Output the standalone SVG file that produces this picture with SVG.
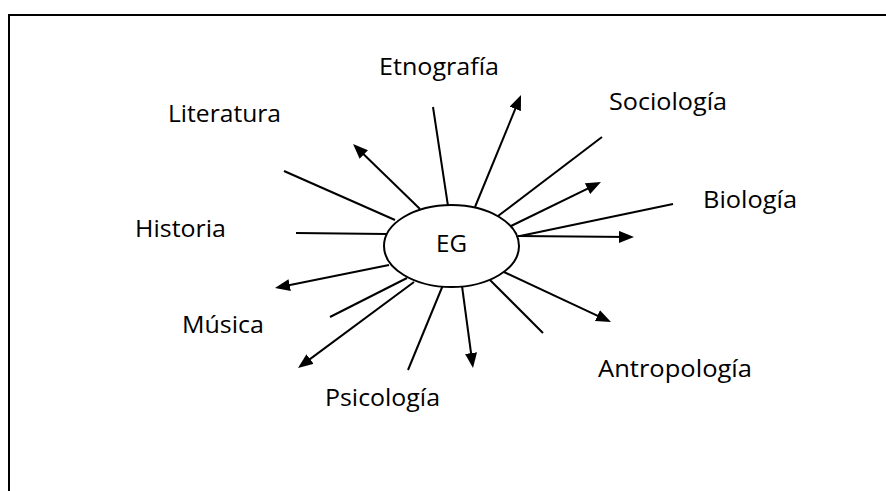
<svg xmlns="http://www.w3.org/2000/svg" width="886" height="491" viewBox="0 0 886 491">
<style>
.c line{stroke:#000;stroke-width:2;fill:none}
.a{marker-end:url(#ah)}
text{font-family:"Open Sans","Liberation Sans",sans-serif;font-size:24px;fill:#000}
</style>
<defs>
<marker id="ah" viewBox="0 0 15 12" refX="11" refY="6" markerWidth="15" markerHeight="12" markerUnits="userSpaceOnUse" orient="auto">
<path d="M0,0 L15,6 L0,12 Z" fill="#000"/>
</marker>
</defs>
<rect width="886" height="491" fill="#fff"/>
<path d="M9,491 V15 H886" fill="none" stroke="#000" stroke-width="2"/>
<g id="connectors" class="c">
<line x1="284" y1="171" x2="395" y2="220"/>
<line x1="296" y1="233" x2="386" y2="234"/>
<line x1="433" y1="107" x2="448" y2="206"/>
<line x1="602" y1="137" x2="498" y2="216"/>
<line x1="673" y1="204" x2="520" y2="236"/>
<line x1="543" y1="333" x2="490" y2="280"/>
<line x1="408" y1="370" x2="443" y2="285"/>
<line x1="330" y1="317" x2="407" y2="278"/>
<line class="a" x1="420" y1="209" x2="355.9" y2="146.8"/>
<line class="a" x1="475" y1="207" x2="519.5" y2="98.7"/>
<line class="a" x1="511" y1="226" x2="597.4" y2="183.8"/>
<line class="a" x1="518" y1="236" x2="630" y2="237"/>
<line class="a" x1="504" y1="272" x2="607.4" y2="320.3"/>
<line class="a" x1="462" y1="286" x2="472.5" y2="364"/>
<line class="a" x1="414" y1="282" x2="301.2" y2="365.6"/>
<line class="a" x1="389" y1="265" x2="278.9" y2="287.2"/>
</g>
<g id="node-EG">
<ellipse cx="451.5" cy="246" rx="67.5" ry="41" fill="#fff" stroke="#000" stroke-width="2"/>
<text x="436" y="252" textLength="31" lengthAdjust="spacingAndGlyphs">EG</text>
</g>
<g id="label-etnografia"><text x="379" y="75" textLength="120" lengthAdjust="spacingAndGlyphs">Etnografía</text></g>
<g id="label-literatura"><text x="168" y="122" textLength="113" lengthAdjust="spacingAndGlyphs">Literatura</text></g>
<g id="label-sociologia"><text x="609" y="110" textLength="118" lengthAdjust="spacingAndGlyphs">Sociología</text></g>
<g id="label-biologia"><text x="703" y="208" textLength="94" lengthAdjust="spacingAndGlyphs">Biología</text></g>
<g id="label-historia"><text x="135" y="237" textLength="91" lengthAdjust="spacingAndGlyphs">Historia</text></g>
<g id="label-musica"><text x="182" y="333" textLength="82" lengthAdjust="spacingAndGlyphs">Música</text></g>
<g id="label-antropologia"><text x="598" y="377" textLength="154" lengthAdjust="spacingAndGlyphs">Antropología</text></g>
<g id="label-psicologia"><text x="325" y="406" textLength="115" lengthAdjust="spacingAndGlyphs">Psicología</text></g>
</svg>
